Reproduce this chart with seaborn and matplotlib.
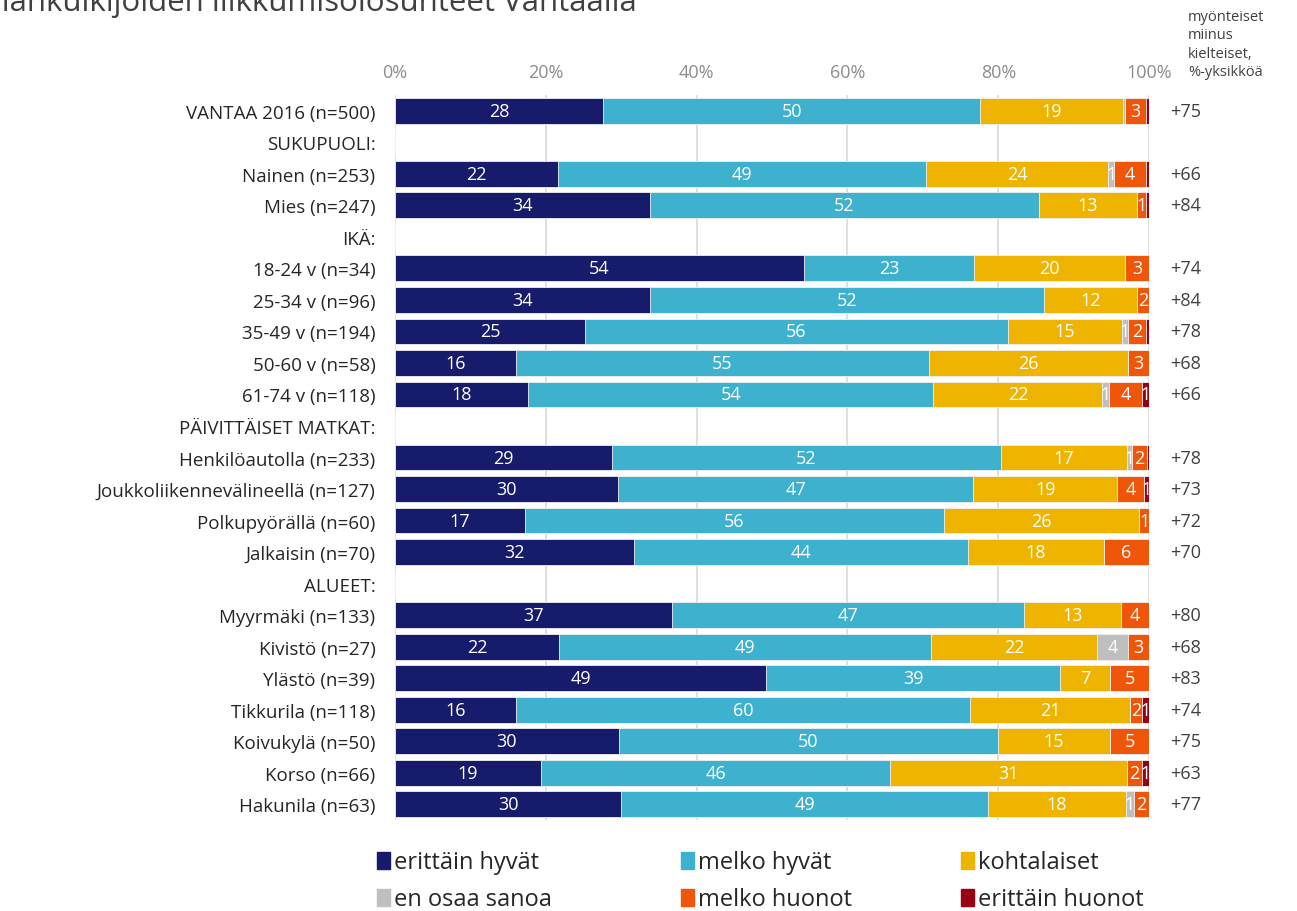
import numpy as np
import pandas as pd
import matplotlib.pyplot as plt
import seaborn as sns

# row labels (headers have no bars)
rows = ["VANTAA 2016 (n=500)", "SUKUPUOLI:", "Nainen (n=253)", "Mies (n=247)", "IKÄ:",
        "18-24 v (n=34)", "25-34 v (n=96)", "35-49 v (n=194)", "50-60 v (n=58)", "61-74 v (n=118)",
        "PÄIVITTÄISET MATKAT:", "Henkilöautolla (n=233)", "Joukkoliikennevälineellä (n=127)",
        "Polkupyörällä (n=60)", "Jalkaisin (n=70)", "ALUEET:", "Myyrmäki (n=133)", "Kivistö (n=27)",
        "Ylästö (n=39)", "Tikkurila (n=118)", "Koivukylä (n=50)", "Korso (n=66)", "Hakunila (n=63)"]
headers = ["SUKUPUOLI:", "IKÄ:", "PÄIVITTÄISET MATKAT:", "ALUEET:"]

series = ["erittäin hyvät", "melko hyvät", "kohtalaiset", "en osaa sanoa", "melko huonot", "erittäin huonot"]
colors = ["#161B6B", "#3EB1CF", "#EEB400", "#BFBFBF", "#F0560A", "#990012"]

erittain_hyvat = [27.6, 21.6, 33.8, 54.2, 33.8, 25.2, 16.0, 17.7, 28.8, 29.6, 17.2, 31.7, 36.7, 21.8, 49.2, 16.0, 29.7, 19.4, 30.0]
melko_hyvat = [50.0, 48.8, 51.6, 22.6, 52.3, 56.1, 54.8, 53.7, 51.5, 47.1, 55.6, 44.3, 46.7, 49.3, 39.0, 60.3, 50.2, 46.2, 48.6]
kohtalaiset = [18.9, 24.2, 13.0, 20.0, 12.3, 15.1, 26.4, 22.4, 16.7, 19.1, 25.9, 18.0, 12.9, 22.0, 6.6, 21.2, 14.9, 31.4, 18.3]
en_osaa = [0.3, 0.8, 0.0, 0.0, 0.0, 0.8, 0.0, 0.9, 0.7, 0.0, 0.0, 0.0, 0.0, 4.1, 0.0, 0.0, 0.0, 0.0, 1.1]
melko_huonot = [2.8, 4.2, 1.2, 3.2, 1.6, 2.4, 2.8, 4.4, 2.0, 3.5, 1.3, 6.0, 3.7, 2.8, 5.2, 1.6, 5.2, 2.1, 2.0]
erittain_huonot = [0.4, 0.4, 0.4, 0.0, 0.0, 0.4, 0.0, 0.9, 0.3, 0.7, 0.0, 0.0, 0.0, 0.0, 0.0, 0.9, 0.0, 0.9, 0.0]
net = ["+75", "+66", "+84", "+74", "+84", "+78", "+68", "+66", "+78", "+73", "+72", "+70",
       "+80", "+68", "+83", "+74", "+75", "+63", "+77"]

data_rows = [r for r in rows if r not in headers]
df = pd.DataFrame({"label": data_rows}).set_index("label")
for name, vals in zip(series, [erittain_hyvat, melko_hyvat, kohtalaiset, en_osaa, melko_huonot, erittain_huonot]):
    df[name] = vals
df["net"] = net
df = df.reindex(rows)
cum = df[series].cumsum(axis=1)

sns.set_style("white")
plt.rcParams["font.family"] = ["Open Sans", "DejaVu Sans"]

fig = plt.figure(figsize=(12.97, 9.12), dpi=100)
ax = fig.add_axes([0.3045, 0.0998, 0.5815, 0.7949])

# stacked bars: draw cumulative totals from the widest down
plot_df = cum.fillna(0).reset_index()
for name, c in reversed(list(zip(series, colors))):
    sns.barplot(data=plot_df, x=name, y="label", order=rows, color=c, saturation=1, orient="h",
                width=0.82, errorbar=None, linewidth=0.6, edgecolor="#F2F2F2", ax=ax, zorder=3)

for i, r in enumerate(rows):
    if r in headers:
        continue
    for name in series:
        v = df.loc[r, name]
        if round(v) >= 1:
            ax.text(cum.loc[r, name] - v / 2, i, f"{round(v)}", ha="center", va="center",
                    color="white", fontsize=13, zorder=4)
    ax.text(102.8, i, df.loc[r, "net"], ha="left", va="center", color="#404040", fontsize=13,
            clip_on=False)

ax.set_xlim(0, 100)
ax.set_ylim(len(rows) - 0.5, -0.5)
ax.set_xticks([0, 20, 40, 60, 80, 100])
ax.set_xticklabels(["0%", "20%", "40%", "60%", "80%", "100%"], color="#8C8C8C", fontsize=13)
ax.xaxis.tick_top()
ax.tick_params(axis="x", length=0, pad=10)
ax.tick_params(axis="y", length=0, pad=14, labelsize=13.5, labelcolor="#262626")
ax.set_xlabel("")
ax.set_ylabel("")
ax.grid(axis="x", color="#D9D9D9", linewidth=1.2, zorder=0)
ax.set_axisbelow(True)
sns.despine(ax=ax, left=True, bottom=True, top=True, right=True)

# title is partly outside the canvas in the reference
fig.text(637 / 1297, 1 - 11 / 912, "Jalankulkijoiden liikkumisolosuhteet Vantaalla",
         ha="right", va="baseline", fontsize=22.5, color="#404040")
fig.text(1188 / 1297, 1 - 10 / 912, "myönteiset\nmiinus\nkielteiset,\n%-yksikköä",
         ha="left", va="top", fontsize=10.5, color="#404040", linespacing=1.3)

# legend: three columns at fixed positions, two entries each
handles = [plt.Rectangle((0, 0), 1, 1, color=c) for c in colors]
col_x = [368, 672, 952]
for j, x in enumerate(col_x):
    leg = fig.legend([handles[j], handles[j + 3]], [series[j], series[j + 3]],
                     loc="upper left", bbox_to_anchor=(x / 1297, 1 - 842 / 912), frameon=False,
                     fontsize=17, handlelength=0.55, handleheight=0.75, handletextpad=0.15,
                     labelspacing=0.55, labelcolor="#262626", borderaxespad=0)

fig.savefig("out.png", dpi=100)
